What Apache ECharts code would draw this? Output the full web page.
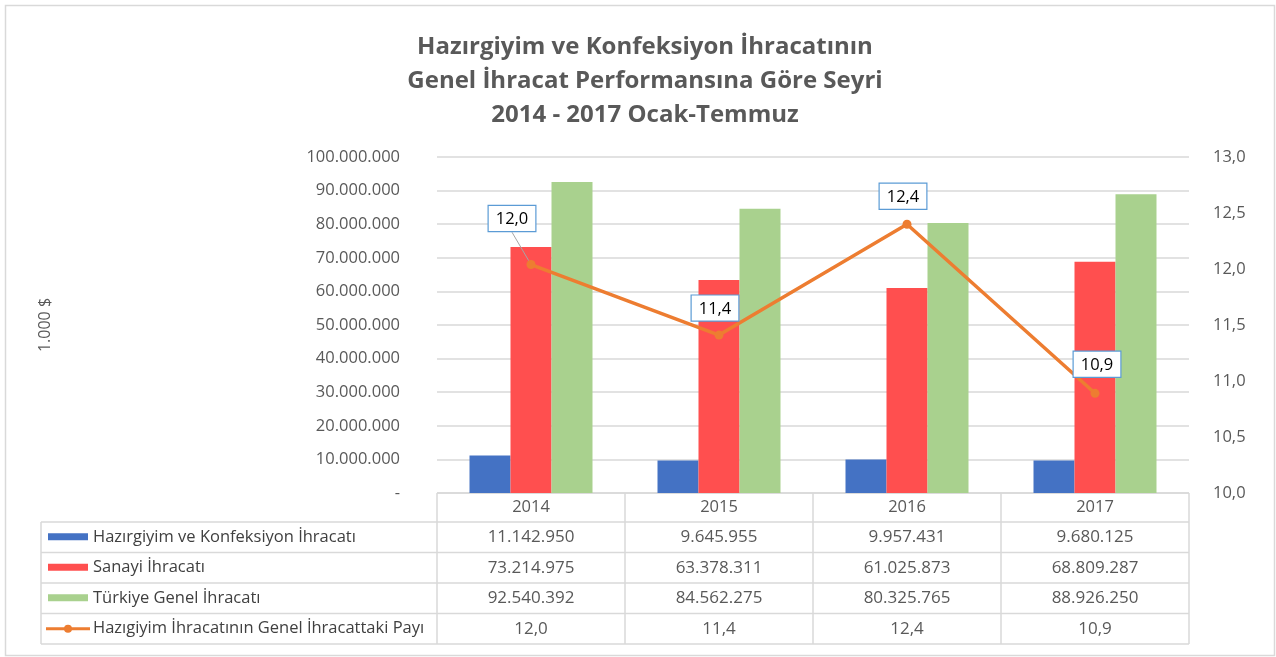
<!DOCTYPE html>
<html><head><meta charset="utf-8">
<script src="https://cdn.jsdelivr.net/npm/echarts@6/dist/echarts.min.js"></script>
<style>html,body{margin:0;padding:0;background:#fff}#c{width:1276px;height:657px}</style>
</head><body><div id="c"></div>
<script>
const titleLines = ['Hazırgiyim ve Konfeksiyon İhracatının', 'Genel İhracat Performansına Göre Seyri', '2014 - 2017 Ocak-Temmuz'];
const years = ['2014', '2015', '2016', '2017'];
const seriesNames = ['Hazırgiyim ve Konfeksiyon İhracatı', 'Sanayi İhracatı', 'Türkiye Genel İhracatı', 'Hazıgiyim İhracatının Genel İhracattaki Payı'];
const hazirgiyim = [11142950, 9645955, 9957431, 9680125];
const sanayi = [73214975, 63378311, 61025873, 68809287];
const genel = [92540392, 84562275, 80325765, 88926250];
const pay = [12.04, 11.41, 12.40, 10.89];
const yAxisName = '1.000 $';

const colors = ['#4472C4', '#FF4F4F', '#A9D18E', '#ED7D31'];
const FONT = '"Open Sans", sans-serif';
const TXT = '#595959';
const GRID = '#d9d9d9';
const gL = 437, gR = 1189, gT = 157, gB = 493;
const tableLeft = 41;
const rowLines = [493, 522, 552.5, 583, 613.5, 644];
const labelShift = [[-19, -24], [-4, -5], [-4, -6], [2, -7]];
const showLeader = [true, false, false, false];

const fmtThousands = v => String(Math.round(v)).replace(/\B(?=(\d{3})+(?!\d))/g, '.');
const fmtPct = v => v.toFixed(1).replace('.', ',');

const chart = echarts.init(document.getElementById('c'));

function buildGraphics() {
  const g = [];
  g.push({type: 'rect', shape: {x: 5.5, y: 5.5, width: 1269, height: 650}, style: {fill: null, stroke: GRID, lineWidth: 1.5}, silent: true});
  const colW = (gR - gL) / years.length;
  const line = (x1, y1, x2, y2) => ({type: 'line', shape: {x1, y1, x2, y2}, style: {stroke: GRID, lineWidth: 1.5}, silent: true});
  g.push(line(gL, rowLines[0], gR, rowLines[0]));
  for (let i = 1; i < rowLines.length; i++) g.push(line(tableLeft, rowLines[i], gR, rowLines[i]));
  g.push(line(tableLeft, rowLines[1], tableLeft, rowLines[rowLines.length - 1]));
  for (let i = 0; i <= years.length; i++) {
    const x = gL + i * colW;
    g.push(line(x, rowLines[0], x, rowLines[rowLines.length - 1]));
  }
  years.forEach((y, i) => {
    g.push({type: 'text', x: gL + (i + 0.5) * colW, y: (rowLines[0] + rowLines[1]) / 2, style: {text: y, fill: TXT, font: '16.5px ' + FONT, textAlign: 'center', textVerticalAlign: 'middle'}, silent: true});
  });
  const rows = [hazirgiyim.map(fmtThousands), sanayi.map(fmtThousands), genel.map(fmtThousands), pay.map(fmtPct)];
  rows.forEach((vals, r) => {
    const cy = (rowLines[r + 1] + rowLines[r + 2]) / 2;
    if (r < 3) {
      g.push({type: 'rect', shape: {x: 48, y: cy - 4, width: 40, height: 7}, style: {fill: colors[r]}, silent: true});
    } else {
      g.push({type: 'line', shape: {x1: 46, y1: cy, x2: 90, y2: cy}, style: {stroke: colors[3], lineWidth: 3}, silent: true});
      g.push({type: 'circle', shape: {cx: 68, cy: cy, r: 4}, style: {fill: colors[3]}, silent: true});
    }
    g.push({type: 'text', x: 93, y: cy, style: {text: seriesNames[r], fill: '#404040', font: '16.5px ' + FONT, textAlign: 'left', textVerticalAlign: 'middle'}, silent: true});
    vals.forEach((v, i) => {
      g.push({type: 'text', x: gL + (i + 0.5) * colW, y: cy, style: {text: v, fill: TXT, font: '17px ' + FONT, textAlign: 'center', textVerticalAlign: 'middle'}, silent: true});
    });
  });
  return g;
}

const barCommon = {type: 'bar', barWidth: 41, barGap: '0%', yAxisIndex: 0, silent: true};

chart.setOption({
  animation: false,
  backgroundColor: '#fff',
  title: {
    text: titleLines.join('\n'), left: 640, textAlign: 'center', top: 25,
    textStyle: {fontFamily: FONT, fontSize: 24, fontWeight: 'bold', color: TXT, lineHeight: 34}
  },
  grid: {left: gL, right: 1276 - gR, top: gT, bottom: 657 - gB},
  xAxis: {
    type: 'category', data: years,
    axisLine: {show: false}, axisTick: {show: false}, axisLabel: {show: false}
  },
  yAxis: [{
    type: 'value', min: 0, max: 100000000, interval: 10000000,
    name: yAxisName, nameLocation: 'middle', nameRotate: 90, nameGap: 384,
    nameTextStyle: {fontFamily: FONT, fontSize: 16, color: TXT},
    axisLine: {show: false}, axisTick: {show: false},
    axisLabel: {fontFamily: FONT, fontSize: 16.5, color: TXT, margin: 37, formatter: v => v === 0 ? '-' : fmtThousands(v)},
    splitLine: {lineStyle: {color: GRID, width: 1.5}}
  }, {
    type: 'value', min: 10, max: 13, interval: 0.5, position: 'right',
    axisLine: {show: false}, axisTick: {show: false},
    axisLabel: {fontFamily: FONT, fontSize: 16.5, color: TXT, margin: 24, formatter: v => fmtPct(v)},
    splitLine: {show: false}
  }],
  series: [
    Object.assign({name: seriesNames[0], data: hazirgiyim, itemStyle: {color: colors[0]}}, barCommon),
    Object.assign({name: seriesNames[1], data: sanayi, itemStyle: {color: colors[1]}}, barCommon),
    Object.assign({name: seriesNames[2], data: genel, itemStyle: {color: colors[2]}}, barCommon),
    {
      name: seriesNames[3], type: 'line', yAxisIndex: 1, silent: true,
      data: pay.map((v, i) => ({value: v, labelLine: {show: showLeader[i]}})),
      symbol: 'circle', symbolSize: 9,
      itemStyle: {color: colors[3]},
      lineStyle: {color: colors[3], width: 3.5},
      label: {
        show: true, position: 'top', distance: 5,
        formatter: p => fmtPct(p.value),
        fontFamily: FONT, fontSize: 16.5, color: '#000',
        backgroundColor: '#fff', borderColor: '#5B9BD5', borderWidth: 1.2,
        padding: [5, 7, 3, 7]
      },
      labelLine: {show: true, lineStyle: {color: '#a6a6a6', width: 1}},
      labelLayout: p => ({dx: labelShift[p.dataIndex][0], dy: labelShift[p.dataIndex][1]}),
      z: 5
    }
  ],
  graphic: buildGraphics()
});
</script></body></html>
